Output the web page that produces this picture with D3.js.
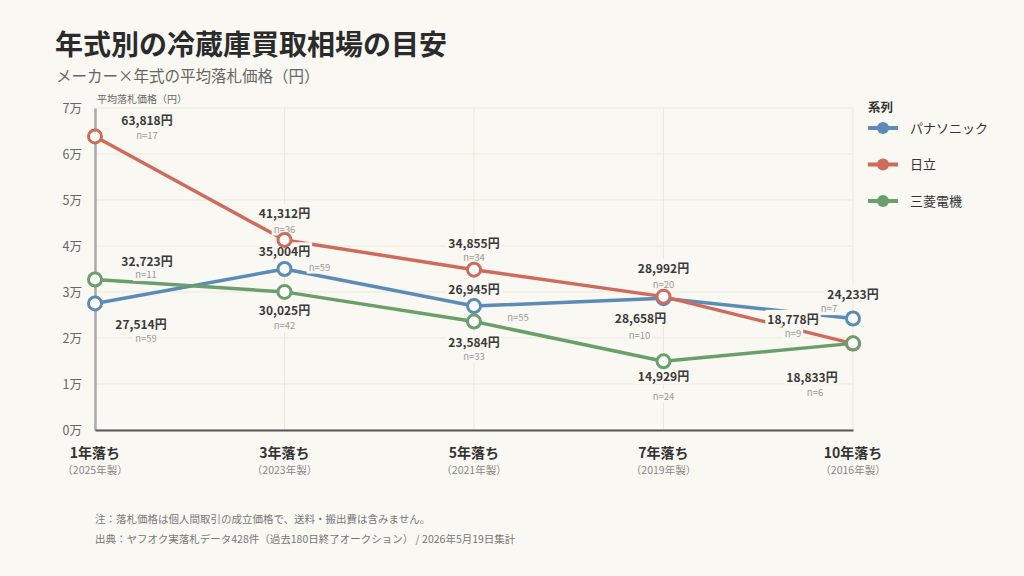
<!DOCTYPE html>
<html>
<head>
<meta charset="utf-8">
<script src="https://cdn.jsdelivr.net/npm/d3@7"></script>
<style>
  html, body { margin: 0; padding: 0; background: #faf8f2; }
  svg { display: block; font-family: "Noto Sans CJK JP", "Noto Sans", sans-serif; }
</style>
</head>
<body>
<div id="chart"></div>
<script>
const categories = ["1年落ち", "3年落ち", "5年落ち", "7年落ち", "10年落ち"];
const years = ["（2025年製）", "（2023年製）", "（2021年製）", "（2019年製）", "（2016年製）"];
const seriesNames = ["パナソニック", "日立", "三菱電機"];
const panasonic = [27514, 35004, 26945, 28658, 24233];
const panasonicN = [59, 59, 55, 10, 7];
const hitachi = [63818, 41312, 34855, 28992, 18778];
const hitachiN = [17, 36, 34, 20, 9];
const mitsubishi = [32723, 30025, 23584, 14929, 18833];
const mitsubishiN = [11, 42, 33, 24, 6];
const yTicks = [0, 10000, 20000, 30000, 40000, 50000, 60000, 70000];
const colors = ["#5b8cb6", "#cf6b5b", "#6a9f6d"];

// label offsets [dx value, dy value, dx n, dy n] relative to the point
const labelPos = [
  [[46, 22, 51, 36], [0, -16, 35, -1], [0, -15, 44, 12], [-23, 22, -24, 38], [0, -23, -24, -9]],
  [[52, -15, 52, 0], [0, -25, 0, -10], [0, -25, 0, -11], [0, -27, 0, -11], [-60, -23, -60, -9]],
  [[52, -17, 51, -4], [0, 20, 0, 35], [0, 22, 0, 36], [0, 16, 0, 36], [-41, 35, -38, 50]]
];

const series = [panasonic, hitachi, mitsubishi].map((vals, i) => ({
  name: seriesNames[i],
  color: colors[i],
  values: vals,
  n: [panasonicN, hitachiN, mitsubishiN][i]
}));

const width = 1024, height = 576;
const margin = {top: 108, right: 171, bottom: 146, left: 95};

const svg = d3.select("#chart").append("svg")
  .attr("width", width)
  .attr("height", height);

svg.append("rect").attr("width", width).attr("height", height).attr("fill", "#faf8f2");

const x = d3.scalePoint()
  .domain(categories)
  .range([margin.left, width - margin.right]);

const y = d3.scaleLinear()
  .domain([0, 70000])
  .range([height - margin.bottom, margin.top]);

// title
svg.append("text")
  .attr("x", 55).attr("y", 55)
  .attr("font-size", 28).attr("font-weight", 700).attr("fill", "#2b2b2b")
  .text("年式別の冷蔵庫買取相場の目安");
svg.append("text")
  .attr("x", 56).attr("y", 82)
  .attr("font-size", 15.5).attr("fill", "#666")
  .text("メーカー×年式の平均落札価格（円）");

// gridlines
const grid = svg.append("g");
grid.selectAll(".hg").data(yTicks).enter().append("line")
  .attr("x1", margin.left).attr("x2", width - margin.right)
  .attr("y1", d => y(d)).attr("y2", d => y(d))
  .attr("stroke", "#ebe7de").attr("stroke-width", 1);
grid.selectAll(".vg").data(categories).enter().append("line")
  .attr("x1", d => x(d)).attr("x2", d => x(d))
  .attr("y1", y(70000)).attr("y2", y(0))
  .attr("stroke", "#ebe7de").attr("stroke-width", 1);

// y axis
const yAxis = svg.append("g")
  .attr("transform", `translate(${margin.left},0)`)
  .call(d3.axisLeft(y).tickValues(yTicks).tickSize(0).tickPadding(13)
    .tickFormat(d => (d / 10000) + "万"));
yAxis.select(".domain").attr("stroke", "#aaa").attr("stroke-width", 2.5);
yAxis.selectAll("text").attr("font-size", 12.5).attr("fill", "#666")
  .attr("font-family", "\"Noto Sans CJK JP\", sans-serif");

svg.append("text")
  .attr("x", 97).attr("y", 103)
  .attr("font-size", 10).attr("fill", "#666")
  .text("平均落札価格（円）");

// x axis
const xAxis = svg.append("g")
  .attr("transform", `translate(0,${y(0)})`)
  .call(d3.axisBottom(x).tickSize(0).tickFormat(""));
xAxis.select(".domain").attr("stroke", "#555").attr("stroke-width", 2);

const xl = svg.append("g");
xl.selectAll(".xc").data(categories).enter().append("text")
  .attr("x", d => x(d)).attr("y", y(0) + 28)
  .attr("text-anchor", "middle").attr("font-size", 14).attr("font-weight", 700)
  .attr("fill", "#333").text(d => d);
xl.selectAll(".xy").data(categories).enter().append("text")
  .attr("x", d => x(d)).attr("y", y(0) + 44)
  .attr("text-anchor", "middle").attr("font-size", 10.5)
  .attr("fill", "#888").text((d, i) => years[i]);

// lines
const line = d3.line()
  .x((d, i) => x(categories[i]))
  .y(d => y(d));

svg.append("g").selectAll("path").data(series).enter().append("path")
  .attr("d", d => line(d.values))
  .attr("fill", "none")
  .attr("stroke", d => d.color)
  .attr("stroke-width", 3.5)
  .attr("stroke-linejoin", "round");

// labels
const labels = svg.append("g");
series.forEach((s, si) => {
  s.values.forEach((v, i) => {
    const px = x(categories[i]), py = y(v);
    const p = labelPos[si][i];
    const t1 = labels.append("text")
      .attr("x", px + p[0]).attr("y", py + p[1])
      .attr("text-anchor", "middle").attr("dominant-baseline", "middle")
      .attr("font-size", 12).attr("font-weight", 700).attr("fill", "#3a3a3a")
      .text(d3.format(",")(v) + "円");
    const t2 = labels.append("text")
      .attr("x", px + p[2]).attr("y", py + p[3])
      .attr("text-anchor", "middle").attr("dominant-baseline", "middle")
      .attr("font-size", 9.5).attr("fill", "#999")
      .text("n=" + s.n[i]);
    [t1, t2].forEach(t => {
      const b = t.node().getBBox();
      labels.insert("rect", () => t.node())
        .attr("x", b.x - 2).attr("y", b.y)
        .attr("width", b.width + 4).attr("height", b.height)
        .attr("fill", "#faf8f2");
    });
  });
});

// markers
series.forEach(s => {
  svg.append("g").selectAll("circle").data(s.values).enter().append("circle")
    .attr("cx", (d, i) => x(categories[i]))
    .attr("cy", d => y(d))
    .attr("r", 6.5)
    .attr("fill", "#fff")
    .attr("stroke", s.color)
    .attr("stroke-width", 3);
});

// legend
const legend = svg.append("g").attr("transform", "translate(868,0)");
legend.append("text")
  .attr("x", 0).attr("y", 112)
  .attr("font-size", 12.5).attr("font-weight", 700).attr("fill", "#333")
  .text("系列");
const items = legend.selectAll(".li").data(series).enter().append("g")
  .attr("transform", (d, i) => `translate(0,${128 + i * 36.5})`);
items.append("line")
  .attr("x1", 0).attr("x2", 30)
  .attr("stroke", d => d.color).attr("stroke-width", 4);
items.append("circle")
  .attr("cx", 15).attr("r", 6)
  .attr("fill", d => d.color);
items.append("text")
  .attr("x", 42).attr("dy", "0.35em")
  .attr("font-size", 13).attr("fill", "#333")
  .text(d => d.name);

// footnotes
svg.append("text")
  .attr("x", 95).attr("y", 523)
  .attr("font-size", 10.5).attr("fill", "#777")
  .text("注：落札価格は個人間取引の成立価格で、送料・搬出費は含みません。");
svg.append("text")
  .attr("x", 95).attr("y", 543)
  .attr("font-size", 10.5).attr("fill", "#777")
  .text("出典：ヤフオク実落札データ428件（過去180日終了オークション） / 2026年5月19日集計");
</script>
</body>
</html>
